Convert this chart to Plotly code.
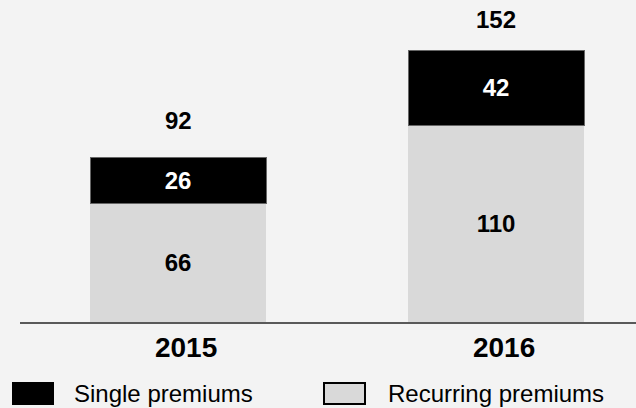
import plotly.graph_objects as go

years = ["2015", "2016"]
recurring = [66, 110]
single = [26, 42]
totals = [r + s for r, s in zip(recurring, single)]
legend_labels = ["Single premiums", "Recurring premiums"]

W, H = 636, 408
ML, MR, MT, MB = 20, 0, 0, 86
PW, PH = W - ML - MR, H - MT - MB
FONT = "Liberation Sans, Arial, sans-serif"
BG = "#f3f3f3"
GREY = "#d9d9d9"

def px_x(p):
    return (p - ML) / PW

def px_y(p):
    return (H - MB - p) / PH

fig = go.Figure()
fig.add_trace(go.Bar(
    x=years, y=recurring, name=legend_labels[1],
    marker=dict(color=GREY, line=dict(width=0)),
    width=0.5535,
    text=recurring, textposition="inside", insidetextanchor="middle",
    textangle=0, constraintext="none",
    textfont=dict(family=FONT, size=24, color="black", weight="bold"),
))
fig.add_trace(go.Bar(
    x=years, y=single, name=legend_labels[0],
    marker=dict(color="black", line=dict(width=1, color="#666666")),
    width=0.5535,
    text=single, textposition="inside", insidetextanchor="middle",
    textangle=0, constraintext="none",
    textfont=dict(family=FONT, size=24, color="white", weight="bold"),
))

shifts = [37, 31]
for i, (t, sh) in enumerate(zip(totals, shifts)):
    fig.add_annotation(x=i, y=t, xref="x", yref="y", text=str(t), showarrow=False,
                       yanchor="middle", yshift=sh,
                       font=dict(family=FONT, size=24, color="black", weight="bold"))

# legend drawn manually
fig.add_shape(type="rect", xref="paper", yref="paper",
              x0=px_x(12), x1=px_x(54), y0=px_y(405), y1=px_y(382),
              fillcolor="black", line=dict(width=0))
fig.add_shape(type="rect", xref="paper", yref="paper",
              x0=px_x(324), x1=px_x(365), y0=px_y(404), y1=px_y(383),
              fillcolor=GREY, line=dict(width=2, color="black"))
fig.add_annotation(xref="paper", yref="paper", x=px_x(72), y=px_y(393),
                   xanchor="left", yanchor="middle", showarrow=False,
                   text=legend_labels[0],
                   font=dict(family=FONT, size=24, color="black"))
fig.add_annotation(xref="paper", yref="paper", x=px_x(386), y=px_y(393),
                   xanchor="left", yanchor="middle", showarrow=False,
                   text=legend_labels[1],
                   font=dict(family=FONT, size=24, color="black"))

fig.update_layout(
    width=W, height=H,
    margin=dict(l=ML, r=MR, t=MT, b=MB, pad=0),
    paper_bgcolor=BG, plot_bgcolor=BG,
    barmode="stack", showlegend=False,
    xaxis=dict(type="category", range=[-0.497, 1.440], showgrid=False,
               showline=True, linecolor="#595959", linewidth=1.5,
               ticks="", zeroline=False, fixedrange=True,
               ticklabelshift=8,
               tickfont=dict(family=FONT, size=28, color="black", weight="bold")),
    yaxis=dict(range=[0, 179.94], visible=False, showgrid=False, zeroline=False,
               fixedrange=True),
)

fig.write_html("out.html", config={"displayModeBar": False, "staticPlot": True},
               post_script="document.body.style.margin='0';document.body.style.background='#f3f3f3';")
